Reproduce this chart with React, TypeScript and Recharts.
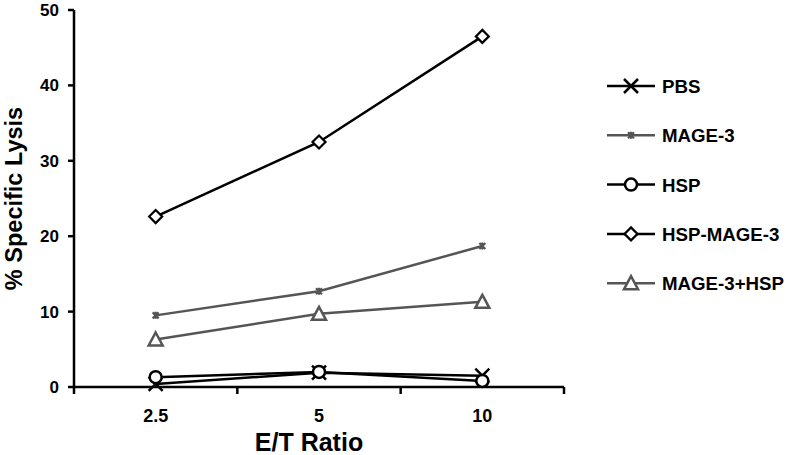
import React from 'react';
import { LineChart, Line, XAxis, YAxis, Legend } from 'recharts';

const categories = ['2.5', '5', '10'];
const pbs = [0.4, 1.9, 1.5];
const mage3 = [9.5, 12.7, 18.7];
const hsp = [1.3, 2.0, 0.8];
const hspMage3 = [22.6, 32.5, 46.5];
const mage3Hsp = [6.3, 9.7, 11.3];
const yTicks = [0, 10, 20, 30, 40, 50];

const FONT = 'Arial, "Liberation Sans", Helvetica, sans-serif';
const BLACK = '#000000';
const GRAY = '#555555';

type Kind = 'x' | 'star' | 'circle' | 'diamond' | 'triangle';

const series: { key: string; name: string; color: string; kind: Kind }[] = [
  { key: 'pbs', name: 'PBS', color: BLACK, kind: 'x' },
  { key: 'mage3', name: 'MAGE-3', color: GRAY, kind: 'star' },
  { key: 'hsp', name: 'HSP', color: BLACK, kind: 'circle' },
  { key: 'hspMage3', name: 'HSP-MAGE-3', color: BLACK, kind: 'diamond' },
  { key: 'mage3Hsp', name: 'MAGE-3+HSP', color: GRAY, kind: 'triangle' },
];

const data = categories.map((c, i) => ({
  ratio: c,
  pbs: pbs[i],
  mage3: mage3[i],
  hsp: hsp[i],
  hspMage3: hspMage3[i],
  mage3Hsp: mage3Hsp[i],
}));

function Marker({ kind, cx, cy, color }: { kind: Kind; cx: number; cy: number; color: string }) {
  if (cx == null || cy == null) return null;
  switch (kind) {
    case 'x':
      return (
        <path
          d={`M${cx - 7},${cy - 7}L${cx + 7},${cy + 7}M${cx + 7},${cy - 7}L${cx - 7},${cy + 7}`}
          stroke={color}
          strokeWidth={2.5}
          fill="none"
        />
      );
    case 'star':
      return (
        <path
          d={`M${cx - 3},${cy - 3}L${cx + 3},${cy + 3}M${cx + 3},${cy - 3}L${cx - 3},${cy + 3}M${cx},${cy - 3.5}L${cx},${cy + 3.5}`}
          stroke={color}
          strokeWidth={2.2}
          fill="none"
        />
      );
    case 'circle':
      return <circle cx={cx} cy={cy} r={6} fill="#fff" stroke={color} strokeWidth={2.5} />;
    case 'diamond':
      return (
        <path
          d={`M${cx},${cy - 6.5}L${cx + 6.5},${cy}L${cx},${cy + 6.5}L${cx - 6.5},${cy}Z`}
          fill="#fff"
          stroke={color}
          strokeWidth={2.2}
        />
      );
    case 'triangle':
      return (
        <path
          d={`M${cx},${cy - 7}L${cx + 7},${cy + 6}L${cx - 7},${cy + 6}Z`}
          fill="#fff"
          stroke={color}
          strokeWidth={2.5}
        />
      );
  }
  return null;
}

// band-boundary tick marks, label in the middle of the band
function XTick(props: any) {
  const { x, y, payload, index, visibleTicksCount } = props;
  const half = payload?.offset ?? 81.7;
  const last = index === (visibleTicksCount ?? categories.length) - 1;
  return (
    <g>
      <line x1={x - half} x2={x - half} y1={y} y2={y + 7} stroke={BLACK} strokeWidth={2.5} />
      {last && <line x1={x + half} x2={x + half} y1={y} y2={y + 7} stroke={BLACK} strokeWidth={2.5} />}
      <text x={x} y={y + 35} textAnchor="middle" fontFamily={FONT} fontWeight="bold" fontSize={18} fill={BLACK}>
        {payload.value}
      </text>
    </g>
  );
}

function LegendBox() {
  const rows = [86, 135.3, 184.6, 233.9, 283.2];
  return (
    <svg width={187} height={260}>
      {series.map((s, i) => {
        const y = rows[i] - 60;
        return (
          <g key={s.key}>
            <line x1={7} x2={55} y1={y} y2={y} stroke={s.color} strokeWidth={2.5} />
            <Marker kind={s.kind} cx={31} cy={y} color={s.color} />
            <text x={62} y={y + 7} fontFamily={FONT} fontWeight="bold" fontSize={18.7} fill={BLACK}>
              {s.name}
            </text>
          </g>
        );
      })}
    </svg>
  );
}

export default function App() {
  return (
    <div style={{ position: 'absolute', left: 0, top: 0, background: '#fff' }}>
      <LineChart width={787} height={455} data={data} margin={{ top: 10, right: 223, bottom: 0, left: 0 }}>
        <XAxis
          dataKey="ratio"
          scale="band"
          height={68}
          tickSize={0}
          tickMargin={0}
          tickLine={false}
          axisLine={{ stroke: BLACK, strokeWidth: 2.5 }}
          tick={<XTick />}
          interval={0}
          label={{
            content: (p: any) => {
              const vb = p.viewBox;
              return (
                <text
                  x={vb.x + vb.width / 2 - 10}
                  y={451}
                  textAnchor="middle"
                  fontFamily={FONT}
                  fontWeight="bold"
                  fontSize={25}
                  fill={BLACK}
                >
                  E/T Ratio
                </text>
              );
            },
          }}
        />
        <YAxis
          width={74}
          domain={[0, 50]}
          ticks={yTicks}
          interval={0}
          tickSize={6}
          tickMargin={9}
          axisLine={{ stroke: BLACK, strokeWidth: 2.5 }}
          tickLine={{ stroke: BLACK, strokeWidth: 2.5 }}
          tick={{ fontFamily: FONT, fontWeight: 'bold', fontSize: 17, fill: BLACK }}
          label={{
            content: (p: any) => {
              const vb = p.viewBox;
              const cy = vb.y + vb.height / 2;
              return (
                <text
                  transform={`translate(22, ${cy}) rotate(-90)`}
                  textAnchor="middle"
                  fontFamily={FONT}
                  fontWeight="bold"
                  fontSize={23.5}
                  fill={BLACK}
                >
                  % Specific Lysis
                </text>
              );
            },
          }}
        />
        <Legend
          layout="vertical"
          align="center"
          verticalAlign="middle"
          wrapperStyle={{ left: 600, top: 60, width: 187, height: 260 }}
          content={() => <LegendBox />}
        />
        {series.map((s) => (
          <Line
            key={s.key}
            dataKey={s.key}
            name={s.name}
            stroke={s.color}
            strokeWidth={2.5}
            isAnimationActive={false}
            dot={(p: any) => <Marker key={`${s.key}-${p.index}`} kind={s.kind} cx={p.cx} cy={p.cy} color={s.color} />}
            activeDot={false}
          />
        ))}
      </LineChart>
    </div>
  );
}
